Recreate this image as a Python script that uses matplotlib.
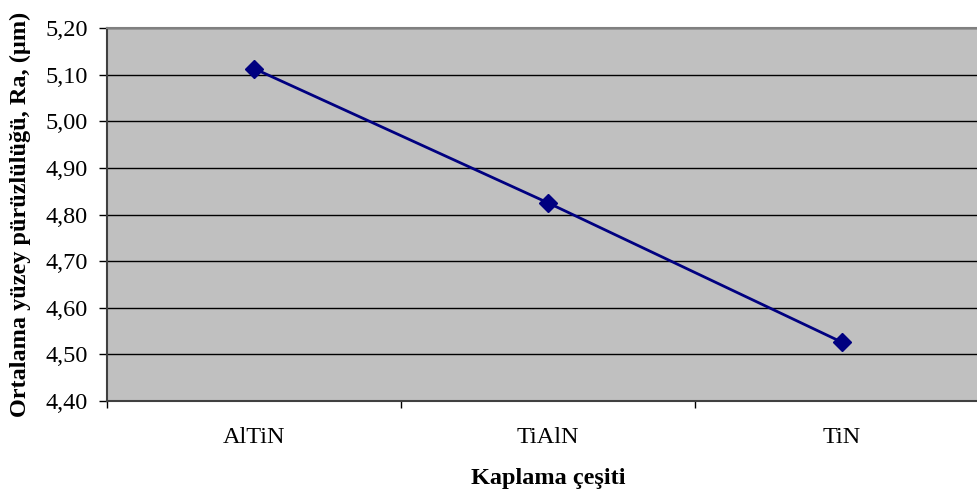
import matplotlib
matplotlib.use('Agg')
from matplotlib import pyplot as plt
from matplotlib.ticker import FuncFormatter

# coating types and mean surface roughness Ra (um)
coatings = ['AlTiN', 'TiAlN', 'TiN']
ra_values = [5.113, 4.825, 4.526]
y_ticks = [4.40, 4.50, 4.60, 4.70, 4.80, 4.90, 5.00, 5.10, 5.20]

plt.rcParams['font.family'] = ['Liberation Serif', 'DejaVu Serif']
fs = 17.5

fig = plt.figure(figsize=(9.78, 4.98), dpi=100)
ax = fig.add_axes([107/978, 1 - 401/498, (989 - 107)/978, (401 - 28)/498])
ax.set_facecolor('#c0c0c0')

xs = [i + 0.5 for i in range(len(coatings))]
ax.plot(xs, ra_values, color='#000080', lw=2, marker='D', ms=9,
        markerfacecolor='#000080', markeredgecolor='#000080', zorder=3)

ax.set_xlim(0, len(coatings))
ax.set_ylim(y_ticks[0], y_ticks[-1])
ax.set_yticks(y_ticks)
ax.yaxis.set_major_formatter(FuncFormatter(lambda v, p: f'{v:.2f}'.replace('.', ',')))
ax.grid(axis='y', color='black', lw=1)
ax.set_axisbelow(True)

# category ticks sit between the groups, labels sit in the middle
ax.set_xticks(range(len(coatings) + 1))
ax.set_xticklabels([])
ax.set_xticks(xs, minor=True)
ax.set_xticklabels(coatings, minor=True)
ax.tick_params(axis='x', which='minor', length=0, pad=19, labelsize=fs)
ax.tick_params(axis='x', which='major', length=5, width=1, direction='out')
ax.tick_params(axis='y', length=6, width=1, direction='out', labelsize=fs, pad=8)

ax.spines['right'].set_visible(False)
ax.spines['top'].set_color('#808080')
ax.spines['top'].set_linewidth(1.5)
for side in ('left', 'bottom'):
    ax.spines[side].set_color('#404040')
    ax.spines[side].set_linewidth(1.5)

ax.set_xlabel('Kaplama çeşiti', fontsize=fs, fontweight='bold', labelpad=14)
ax.set_ylabel('Ortalama yüzey pürüzlülüğü, Ra, (µm)', fontsize=fs, fontweight='bold', labelpad=10)

fig.savefig('out.png', dpi=100)
